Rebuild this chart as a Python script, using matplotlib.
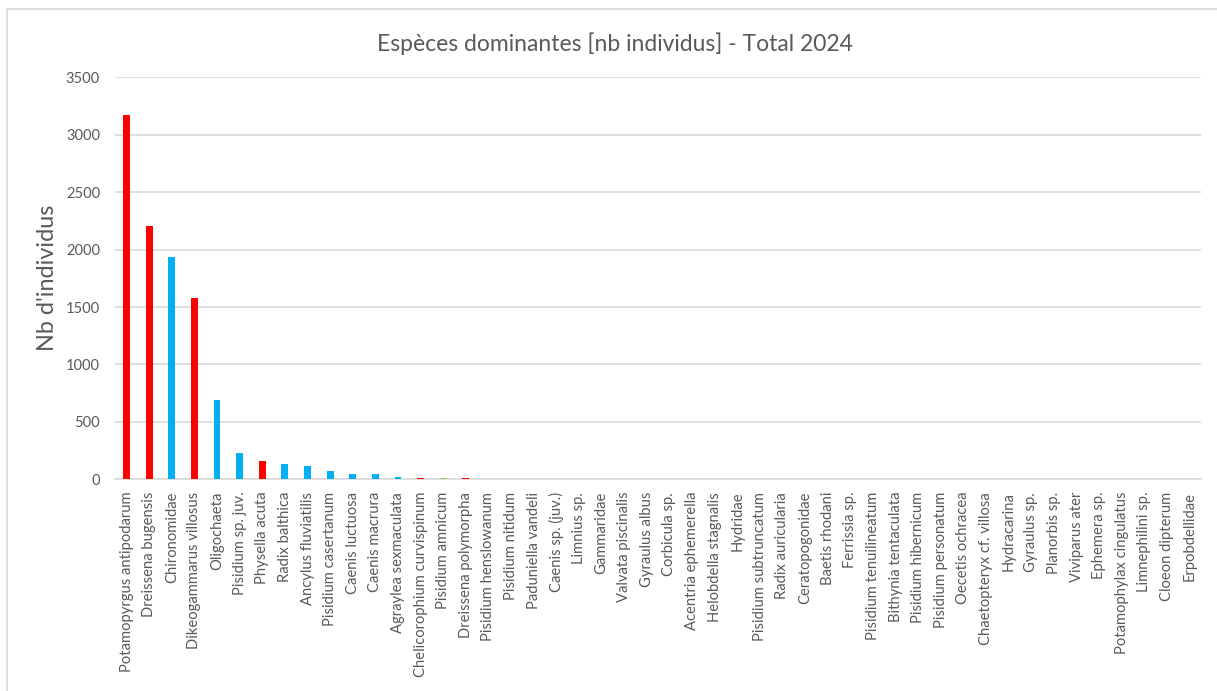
import matplotlib
matplotlib.use("Agg")
import matplotlib.pyplot as plt
from matplotlib.patches import Rectangle

# Species (sorted by total count) and their counts
species = [
    "Potamopyrgus antipodarum", "Dreissena bugensis", "Chironomidae",
    "Dikeogammarus villosus", "Oligochaeta", "Pisidium sp. juv.",
    "Physella acuta", "Radix balthica", "Ancylus fluviatilis",
    "Pisidium casertanum", "Caenis luctuosa", "Caenis macrura",
    "Agraylea sexmaculata", "Chelicorophium curvispinum", "Pisidium amnicum",
    "Dreissena polymorpha", "Pisidium henslowanum", "Pisidium nitidum",
    "Paduniella vandeli", "Caenis sp. (juv.)", "Limnius sp.", "Gammaridae",
    "Valvata piscinalis", "Gyraulus albus", "Corbicula sp.",
    "Acentria ephemerella", "Helobdella stagnalis", "Hydridae",
    "Pisidium subtruncatum", "Radix auricularia", "Ceratopogonidae",
    "Baetis rhodani", "Ferrissia sp.", "Pisidium tenuilineatum",
    "Bithynia tentaculata", "Pisidium hibernicum", "Pisidium personatum",
    "Oecetis ochracea", "Chaetopteryx cf. villosa", "Hydracarina",
    "Gyraulus sp.", "Planorbis sp.", "Viviparus ater", "Ephemera sp.",
    "Potamophylax cingulatus", "Limnephilini sp.", "Cloeon dipterum",
    "Erpobdellidae",
]
counts = [3168, 2205, 1933, 1581, 690, 232, 159, 133, 116, 75, 46, 46,
          20, 12, 12, 12, 0, 0, 0, 0, 0, 0, 0, 0, 0, 0, 0, 0, 0, 0, 0,
          0, 0, 0, 0, 0, 0, 0, 0, 0, 0, 0, 0, 0, 0, 0, 0, 0]
# status group per species: r = invasive (red), b = native (blue), g = other (green)
groups = ["r", "r", "b", "r", "b", "b", "r", "b", "b", "b", "b", "b",
          "b", "r", "g", "r"] + ["b"] * 32

palette = {"r": "#FF0000", "b": "#00B0F0", "g": "#92D050"}
colors = [palette[g] for g in groups]

plt.rcParams['font.family'] = ['Lato', 'DejaVu Sans']
grey = "#595959"

fig = plt.figure(figsize=(12.17, 6.91), dpi=100)
ax = fig.add_axes([0.0947, 0.3064, 0.8921, 0.5817])

x = range(len(species))
ax.bar(x, counts, width=0.3, color=colors, zorder=3)

ax.set_ylim(0, 3500)
ax.set_xlim(-0.5, len(species) - 0.5)
ax.set_yticks(range(0, 3501, 500))
ax.set_xticks(list(x))
ax.set_xticklabels(species, rotation=90, fontsize=10.6, color=grey)
ax.tick_params(axis='y', labelsize=10.5, labelcolor=grey, length=0, pad=11)
ax.tick_params(axis='x', length=0, pad=9)
ax.grid(axis='y', color="#D9D9D9", linewidth=1.2, zorder=0)
for side in ["top", "right", "left"]:
    ax.spines[side].set_visible(False)
ax.spines["bottom"].set_color("#D9D9D9")
ax.spines["bottom"].set_linewidth(1.2)

ax.set_ylabel("Nb d'individus", fontsize=16.8, color=grey, labelpad=6)
fig.text(0.505, 0.937, "Espèces dominantes [nb individus] - Total 2024",
         ha='center', va='center', fontsize=16.5, color=grey)

# chart area border
fig.patches.append(Rectangle((7 / 1217, -0.1), 1.2, 1 - 9 / 691 + 0.1,
                             transform=fig.transFigure, fill=False,
                             edgecolor="#D9D9D9", linewidth=1.2))

fig.savefig("out.png", dpi=100)
